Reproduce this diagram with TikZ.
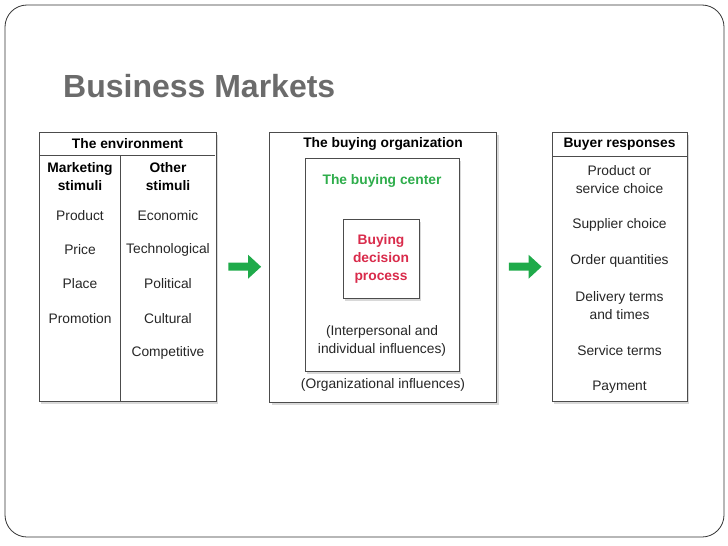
\documentclass[tikz,border=0pt]{standalone}
\usepackage{fontspec}
\setmainfont{Liberation Sans}
\usetikzlibrary{arrows.meta,shadows}
\definecolor{titlegray}{HTML}{6B6B6B}
\definecolor{centergreen}{HTML}{2EAD4B}
\definecolor{processred}{HTML}{D92B4B}
\definecolor{arrowgreen}{HTML}{1FAA4A}
\tikzset{
  panel/.style={draw=black!70, fill=white, line width=0.7pt, inner sep=0pt,
    drop shadow={shadow xshift=2pt, shadow yshift=-3pt, opacity=0.3}},
  item/.style={align=center, font=\fontsize{13.8}{18}\selectfont, text=black!85},
  head/.style={item, font=\fontsize{13.8}{18}\selectfont\bfseries, text=black},
  flow/.style={arrowgreen, line width=8pt, -{Triangle[length=13pt, width=23pt]}},
}
\begin{document}
\begin{tikzpicture}[x=1pt, y=-1pt]
\useasboundingbox (0,0) rectangle (728,546);
\draw[black!80, line width=0.8pt, rounded corners=22pt] (5,5) rectangle (724,537);
\node[anchor=base west, inner sep=0pt, font=\fontsize{32}{36}\selectfont\bfseries, text=titlegray] (title) at (63,97) {Business Markets};

% environment
\node[panel, minimum width=177pt, minimum height=269pt] (env) at (127.5,266.5) {};
\draw[black!70, line width=0.7pt] (40,155) -- (215,155);
\draw[black!70, line width=0.7pt] (120,155) -- (120,401);
\node[head] (envhead) at (127.5,144) {The environment};
\node[head] (mkt) at (80,177) {Marketing\\stimuli};
\node[head] (oth) at (168,177) {Other\\stimuli};
\foreach \t [count=\i] in {Product,Price,Place,Promotion}
  \node[item] (ms\i) at (80,{181+34.3*\i}) {\t};
\foreach \t [count=\i] in {Economic,Technological,Political,Cultural,Competitive}
  \node[item] (os\i) at (168,{181+34.3*\i}) {\t};

% buying organization
\node[panel, minimum width=227pt, minimum height=270pt] (org) at (383,267) {};
\node[panel, minimum width=154pt, minimum height=213pt] (center) at (382,264.5) {};
\node[panel, minimum width=76pt, minimum height=79pt] (process) at (381,258.5) {};
\node[head] (orghead) at (383,144) {The buying organization};
\node[head, text=centergreen] (centerhead) at (382,181) {The buying center};
\node[head, text=processred] (processtext) at (381,259) {Buying\\decision\\process};
\node[item] (interp) at (382,341) {(Interpersonal and\\individual influences)};
\node[item] (orginf) at (383,385) {(Organizational influences)};

% responses
\node[panel, minimum width=135pt, minimum height=269pt] (resp) at (619.5,266.5) {};
\draw[black!70, line width=0.7pt] (552,156) -- (687,156);
\node[head] (resphead) at (619.5,144) {Buyer responses};
\node[item] (r1) at (619.5,180) {Product or\\service choice};
\node[item] (r2) at (619.5,225) {Supplier choice};
\node[item] (r3) at (619.5,261) {Order quantities};
\node[item] (r4) at (619.5,306) {Delivery terms\\and times};
\node[item] (r5) at (619.5,351) {Service terms};
\node[item] (r6) at (619.5,387) {Payment};

\draw[flow, shorten <=12pt, shorten >=8pt] (env) -- (org);
\draw[flow, shorten <=12pt, shorten >=10pt] (org) -- (resp);
\end{tikzpicture}
\end{document}
